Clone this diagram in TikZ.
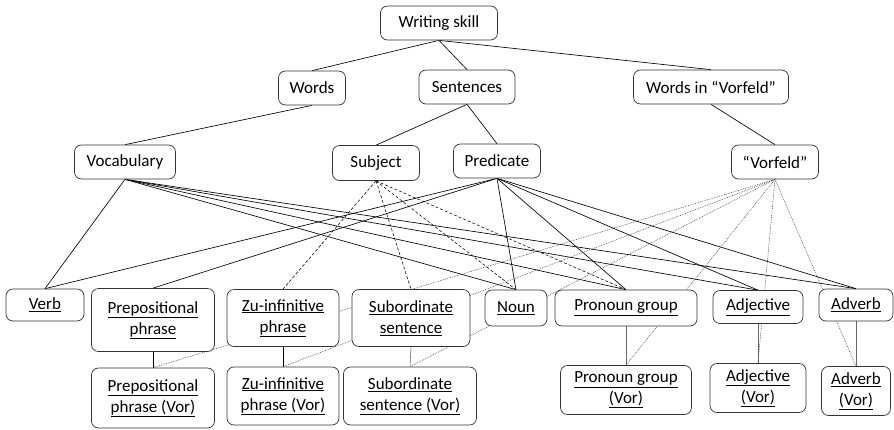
\documentclass[tikz,border=0pt]{standalone}
\usepackage{fontspec}
\setmainfont{Carlito}
\usepackage{tikz}
\usetikzlibrary{positioning}
\pgfdeclarelayer{bg}
\pgfsetlayers{bg,main}
\tikzset{
  box/.style={draw=black!80, line width=0.7pt, rounded corners=7pt, fill=white,
    align=center, inner sep=0pt, font=\fontsize{17}{21}\selectfont},
  link/.style={black, line width=0.65pt},
  sublink/.style={black, line width=0.55pt, dash pattern=on 3pt off 2pt},
  vorlink/.style={black!75, line width=0.55pt, dash pattern=on 0.8pt off 1pt},
  grlink/.style={black!60, line width=0.55pt}
}
\newcommand{\ul}[1]{\underline{#1}}

\begin{document}
\begin{tikzpicture}[x=1pt,y=-1pt]
  \useasboundingbox (0,0) rectangle (894,429);
  % upper levels
  \node[box, minimum width=117pt, minimum height=34pt] (skill) at (439,23) {Writing skill};
  \node[box, minimum width=67pt, minimum height=34pt] (words) at (312,88) {Words};
  \node[box, minimum width=96pt, minimum height=34pt] (sent) at (467,87) {Sentences};
  \node[box, minimum width=155pt, minimum height=34pt] (wiv) at (711,87) {Words in “Vorfeld”};
  \node[box, minimum width=101pt, minimum height=34pt] (vocab) at (125,162) {Vocabulary};
  \node[box, minimum width=87pt, minimum height=35pt] (subj) at (376,163) {Subject};
  \node[box, minimum width=87pt, minimum height=34pt] (pred) at (497,161) {Predicate};
  \node[box, minimum width=87pt, minimum height=34pt] (vorf) at (775,162) {“Vorfeld”};
  % word classes
  \node[box, minimum width=78pt, minimum height=32pt] (verb) at (45,305) {\ul{Verb}};
  \node[box, minimum width=123pt, minimum height=63pt] (prep) at (153,320) {\ul{Prepositional}\\\ul{phrase}};
  \node[box, minimum width=112pt, minimum height=57pt] (zu) at (283,318) {\ul{Zu-infinitive}\\\ul{phrase}};
  \node[box, minimum width=118pt, minimum height=57pt] (subsent) at (411,318) {\ul{Subordinate}\\\ul{sentence}};
  \node[box, minimum width=62pt, minimum height=36pt] (noun) at (516,308) {\ul{Noun}};
  \node[box, minimum width=142pt, minimum height=36pt] (pron) at (626,308) {\ul{Pronoun group}};
  \node[box, minimum width=90pt, minimum height=33pt] (adj) at (758,307) {\ul{Adjective}};
  \node[box, minimum width=74pt, minimum height=32pt] (adv) at (856,305) {\ul{Adverb}};
  % Vorfeld variants
  \node[box, minimum width=123pt, minimum height=60pt] (prepv) at (153,398) {\ul{Prepositional}\\\ul{phrase (Vor)}};
  \node[box, minimum width=112pt, minimum height=58pt] (zuv) at (283,396) {\ul{Zu-infinitive}\\\ul{phrase (Vor)}};
  \node[box, minimum width=133pt, minimum height=58pt] (subv) at (410,396) {\ul{Subordinate}\\\ul{sentence (Vor)}};
  \node[box, minimum width=131pt, minimum height=49pt] (pronv) at (626,390) {\ul{Pronoun group}\\\ul{(Vor)}};
  \node[box, minimum width=96pt, minimum height=49pt] (adjv) at (758,388) {\ul{Adjective}\\\ul{(Vor)}};
  \node[box, minimum width=69pt, minimum height=49pt] (advv) at (856,391) {\ul{Adverb}\\\ul{(Vor)}};

  \begin{pgfonlayer}{bg}
    \draw[link] (skill.south) -- (words.north);
    \draw[link] (skill.south) -- (sent.north);
    \draw[link] (skill.south) -- (wiv.north);
    \draw[link] (words.south) -- (vocab.north);
    \draw[link] (sent.south) -- (subj.north);
    \draw[link] (sent.south) -- (pred.north);
    \draw[link] (wiv.south) -- (vorf.north);
    \foreach \t in {verb,noun,pron,adj,adv}
      \draw[link] (vocab.south) -- (\t.north);
    \foreach \t in {verb,prep,noun,pron,adj,adv}
      \draw[link] (pred.south) -- (\t.north);
    \foreach \t in {zu,subsent,noun,pron}
      \draw[sublink] (subj.south) -- (\t.north);
    \foreach \t in {prepv,zuv,subv,pronv,adjv,advv}
      \draw[vorlink] (vorf.south) -- (\t.north);
    \draw[link] (prep.south) -- (prepv.north);
    \draw[link] (zu.south) -- (zuv.north);
    \foreach \s/\t in {subsent/subv,pron/pronv,adj/adjv,adv/advv}
      \draw[grlink] (\s.south) -- (\t.north);
  \end{pgfonlayer}
\end{tikzpicture}
\end{document}
